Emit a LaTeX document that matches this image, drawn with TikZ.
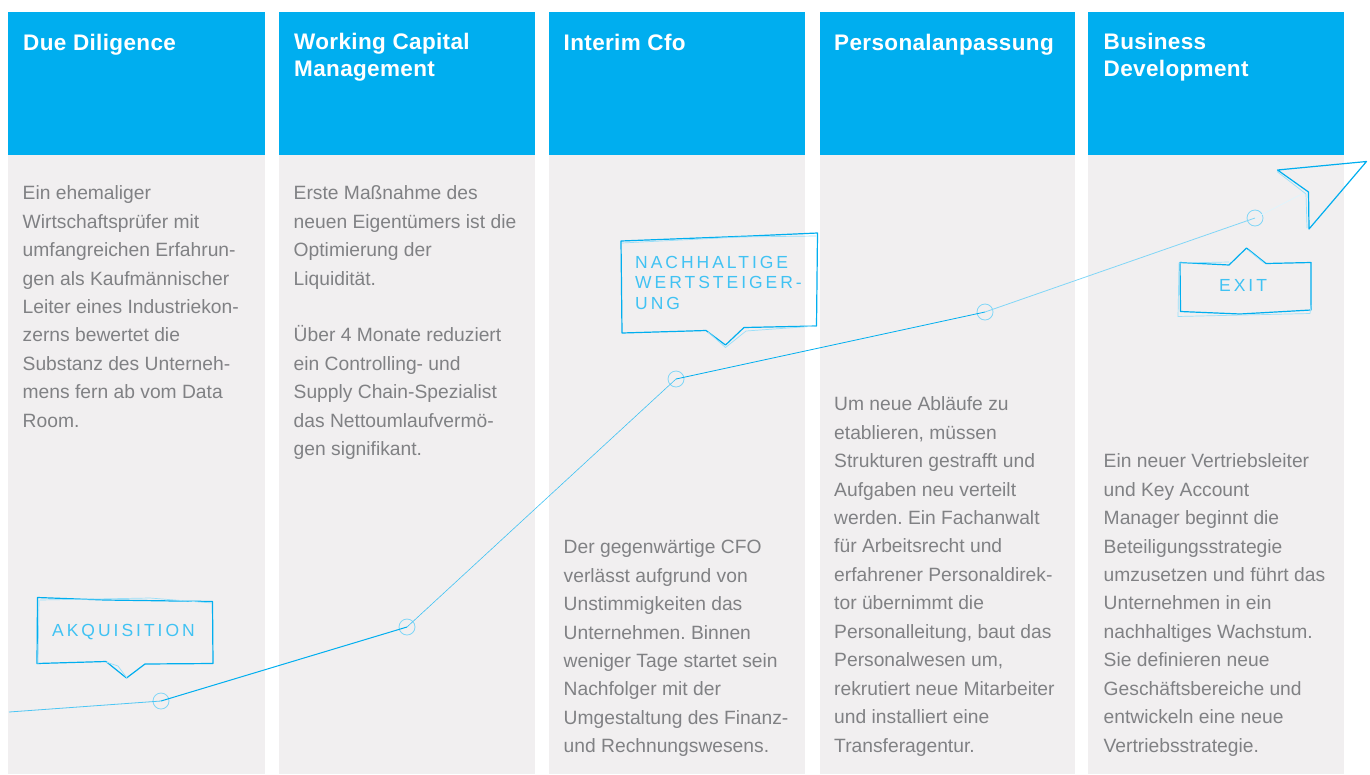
\documentclass[tikz,border=0pt]{standalone}
\usepackage{fontspec}
\usetikzlibrary{positioning,calc}
\setmainfont{Liberation Sans}
\newfontfamily\calloutfont[LetterSpace=17]{Liberation Sans}
\newfontfamily\titlefont[LetterSpace=1.6]{Liberation Sans}
\definecolor{skyblue}{HTML}{00AEEF}
\definecolor{panelgray}{HTML}{F1EFF0}
\definecolor{bodygray}{HTML}{808184}
\frenchspacing
\tikzset{
  panelbox/.style={fill=panelgray,draw=none},
  headbox/.style={fill=skyblue,draw=none},
  headtext/.style={anchor=north west,inner sep=0pt,align=left,text=white,
    font=\titlefont\bfseries\fontsize{22.5}{27}\selectfont},
  bodytext/.style={anchor=north west,inner sep=0pt,align=left,text=bodygray,
    font=\fontsize{19.25}{28.45}\selectfont},
  callout/.style={anchor=north west,inner sep=0pt,align=left,text=skyblue!75,
    font=\calloutfont\fontsize{17.5}{20.5}\selectfont},
  ringnode/.style={circle,draw=skyblue!50,line width=0.8pt,minimum size=16pt,inner sep=0pt},
  curve/.style={draw=skyblue,line width=0.8pt},
  sketchbold/.style={draw=skyblue,line width=1.2pt,line join=round},
  sketchthin/.style={draw=skyblue!40,line width=0.7pt,line join=round}
}
\begin{document}
\begin{tikzpicture}[x=1pt,y=-1pt]
  \useasboundingbox (0,0) rectangle (1370,774);
  % Draw the 5 columns
  \foreach \x/\w in {8/257,279/256,549/256,820/255,1088/256} {
    \fill[panelbox] (\x,155) rectangle ++(\w,619);
    \fill[headbox] (\x,12) rectangle ++(\w,143);
  }
  % Column heads
  \node[headtext] (headone) at (23,33.5) {Due Diligence};
  \node[headtext] (headtwo) at (294,33) {Working Capital\\Management};
  \node[headtext] (headthree) at (563.5,33.5) {Interim Cfo};
  \node[headtext] (headfour) at (834,33.5) {Personalanpassung};
  \node[headtext] (headfive) at (1103.5,33) {Business\\Development};
  % Column texts
  \node[bodytext] (textone) at (22.5,185.5) {Ein ehemaliger\\Wirtschaftsprüfer mit\\umfangreichen Erfahrun-\\gen als Kaufmännischer\\Leiter eines Industriekon-\\zerns bewertet die\\Substanz des Unterneh-\\mens fern ab vom Data\\Room.};
  \node[bodytext] (texttwo) at (293.5,185.5) {Erste Maßnahme des\\neuen Eigentümers ist die\\Optimierung der\\Liquidität.\\[28.45pt]Über 4 Monate reduziert\\ein Controlling- und\\Supply Chain-Spezialist\\das Nettoumlaufvermö-\\gen signifikant.};
  \node[bodytext] (textthree) at (563.5,539.5) {Der gegenwärtige CFO\\verlässt aufgrund von\\Unstimmigkeiten das\\Unternehmen. Binnen\\weniger Tage startet sein\\Nachfolger mit der\\Umgestaltung des Finanz-\\und Rechnungswesens.};
  \node[bodytext] (textfour) at (834,396.5) {Um neue Abläufe zu\\etablieren, müssen\\Strukturen gestrafft und\\Aufgaben neu verteilt\\werden. Ein Fachanwalt\\für Arbeitsrecht und\\erfahrener Personaldirek-\\tor übernimmt die\\Personalleitung, baut das\\Personalwesen um,\\rekrutiert neue Mitarbeiter\\und installiert eine\\Transferagentur.};
  \node[bodytext] (textfive) at (1103.5,453.5) {Ein neuer Vertriebsleiter\\und Key Account\\Manager beginnt die\\Beteiligungsstrategie\\umzusetzen und führt das\\Unternehmen in ein\\nachhaltiges Wachstum.\\Sie definieren neue\\Geschäftsbereiche und\\entwickeln eine neue\\Vertriebsstrategie.};
  % Curve with its rings
  \coordinate (start) at (9,712);
  \coordinate (planeback) at (1308,191);
  \node[ringnode] (ringone) at (161,701) {};
  \node[ringnode] (ringtwo) at (407,627) {};
  \node[ringnode] (ringthree) at (676,379) {};
  \node[ringnode] (ringfour) at (985,312) {};
  \node[ringnode] (ringfive) at (1255,218) {};
  \draw[curve,draw=skyblue!70] (start) -- (ringone.center);
  \draw[curve,line width=1pt] (ringone.center) -- (ringtwo.center);
  \draw[curve,draw=skyblue!75,line width=0.6pt] (ringtwo.center) -- (ringthree.center);
  \draw[curve] (ringthree.center) -- (ringfour.center);
  \draw[curve,draw=skyblue!50] (ringfour.center) -- (ringfive.center);
  \draw[curve,draw=skyblue!12] (ringfive.center) -- (planeback);
  % Callout akquisition
  \draw[sketchbold] (37.5,597.5) -- (105,600) -- (212.5,601.5) -- (213,663.5) -- (145,664) -- (126.5,678) -- (106,661.5) -- (37,663.5) -- cycle;
  \draw[sketchthin] (40,600) -- (150,598) -- (212,603) (39,600) -- (38,664) (106,662) -- (118,666) -- (127,678);
  \node[callout] (labelone) at (52,624.5) {AKQUISITION};
  % Callout wertsteigerung
  \draw[sketchbold] (621,241) -- (750,236) -- (817.5,233) -- (816.5,326) -- (744,327.5) -- (725.5,345) -- (706,330.5) -- (622,333) -- cycle;
  \draw[sketchthin] (622,243) -- (740,237) -- (816,236) (816,326) -- (746,331) -- (725.5,347.5) -- (708,332);
  \node[callout] (labeltwo) at (635,256) {NACHHALTIGE\\WERTSTEIGER-\\UNG};
  % Callout exit
  \draw[sketchbold] (1180,262.5) -- (1229,265) -- (1246.5,248) -- (1266,263.5) -- (1311,262.5) -- (1311,310) -- (1240,314) -- (1180.5,311.5) -- cycle;
  \draw[sketchthin] (1177.5,316.5) -- (1310,313.5) -- (1311,305) (1178,316.5) -- (1179,263) -- (1229,262) (1248,250) -- (1264,263);
  \node[callout] (labelthree) at (1219,279.5) {EXIT};
  % Paper plane
  \draw[sketchbold] (1277.5,170) -- (1366.5,161.5) -- (1309,229) -- (1308.5,192) -- cycle;
  \draw[sketchthin] (1277,171.5) -- (1306,194) -- (1307,228);
\end{tikzpicture}
\end{document}
